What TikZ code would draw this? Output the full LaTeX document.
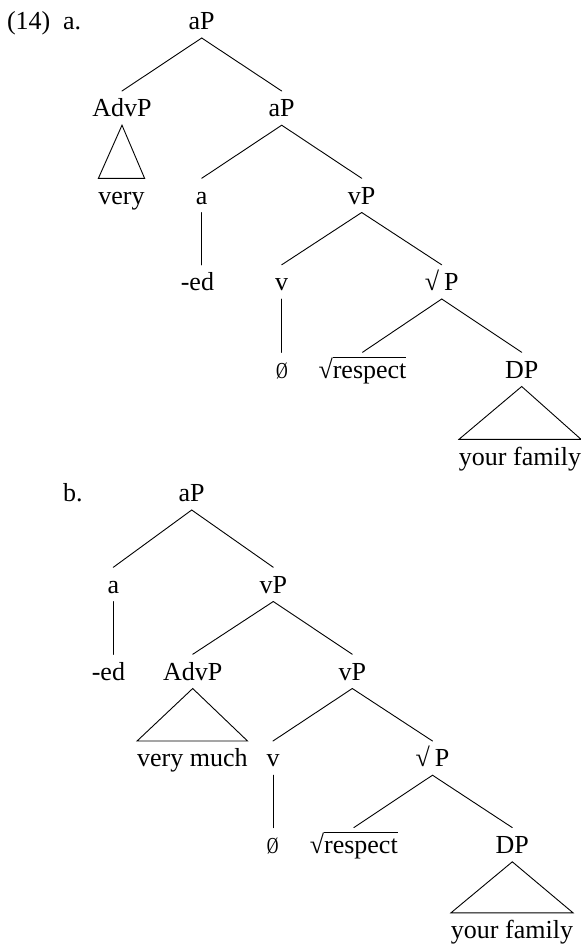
\documentclass[tikz,border=0pt]{standalone}
\usepackage{fontspec}
\usepackage{graphicx}
\setmainfont{Liberation Serif}
\newcommand\rootword[1]{\setbox0=\hbox{#1}√\rlap{\rule[20.3pt]{\wd0}{0.8pt}}\box0}
\newcommand\nullsym{\scalebox{0.62}[0.88]{Ø}}
\tikzset{
  lab/.style={anchor=base, inner sep=0pt, outer sep=0pt, text height=25.7pt, text depth=8.5pt, font=\fontsize{26}{30}\selectfont},
  numlab/.style={anchor=base west, inner sep=0pt, outer sep=0pt, font=\fontsize{26}{30}\selectfont},
  edge/.style={line width=0.9pt, line cap=round}
}
\begin{document}
\begin{tikzpicture}[x=1pt,y=-1pt]
\useasboundingbox (0,0) rectangle (581,946);
% ---------- (14) a. ----------
\node[numlab] (num) at (7,29.5) {(14)};
\node[numlab] (la) at (63,29.5) {a.};
\node[lab] (ta-root) at (201.7,29.5) {aP};
\node[lab] (ta-advp) at (122,116.7) {AdvP};
\node[lab] (ta-ap) at (281.7,116.7) {aP};
\node[lab] (ta-very) at (121.5,204) {very};
\node[lab] (ta-a) at (201.7,204) {a};
\node[lab] (ta-vp) at (361.7,204) {vP};
\node[lab] (ta-ed) at (197.4,290.5) {-ed};
\node[lab] (ta-v) at (281.7,290.5) {v};
\node[lab] (ta-rp) at (441.7,290.5) {√\kern5pt P};
\node[lab] (ta-null) at (282,378) {\nullsym};
\node[lab] (ta-resp) at (362.5,378) {\rootword{respect}};
\node[lab] (ta-dp) at (521.7,378) {DP};
\node[lab] (ta-fam) at (520,465) {your family};
\draw[edge] (ta-root.south) -- (ta-advp.north);
\draw[edge] (ta-root.south) -- (ta-ap.north);
\draw[edge] (ta-advp.south) -- (ta-very.north west) -- (ta-very.north east) -- cycle;
\draw[edge] (ta-ap.south) -- (ta-a.north);
\draw[edge] (ta-ap.south) -- (ta-vp.north);
\draw[edge] (ta-a.south) -- (ta-a.south |- ta-ed.north);
\draw[edge] (ta-vp.south) -- (ta-v.north);
\draw[edge] (ta-vp.south) -- (ta-rp.north);
\draw[edge] (ta-v.south) -- (ta-v.south |- ta-null.north);
\draw[edge] (ta-rp.south) -- (ta-resp.north);
\draw[edge] (ta-rp.south) -- (ta-dp.north);
\draw[edge] (ta-dp.south) -- (ta-fam.north west) -- (ta-fam.north east) -- cycle;
% ---------- b. ----------
\node[numlab] (lb) at (63,501.5) {b.};
\node[lab] (tb-root) at (191.7,501.5) {aP};
\node[lab] (tb-a) at (113.3,593) {a};
\node[lab] (tb-vp) at (273.3,593) {vP};
\node[lab] (tb-ed) at (108.4,680) {-ed};
\node[lab] (tb-advp) at (192.7,680) {AdvP};
\node[lab] (tb-vp2) at (352.3,680) {vP};
\node[lab] (tb-much) at (192.3,766.7) {very much};
\node[lab] (tb-v) at (273,766.7) {v};
\node[lab] (tb-rp) at (432.5,766.7) {√\kern5pt P};
\node[lab] (tb-null) at (272.8,853.3) {\nullsym};
\node[lab] (tb-resp) at (353.8,853.3) {\rootword{respect}};
\node[lab] (tb-dp) at (512.3,853.3) {DP};
\node[lab] (tb-fam) at (512,938.5) {your family};
\draw[edge] (tb-root.south) -- (tb-a.north);
\draw[edge] (tb-root.south) -- (tb-vp.north);
\draw[edge] (tb-a.south) -- (tb-a.south |- tb-ed.north);
\draw[edge] (tb-vp.south) -- (tb-advp.north);
\draw[edge] (tb-vp.south) -- (tb-vp2.north);
\draw[edge] (tb-advp.south) -- (tb-much.north west) -- (tb-much.north east) -- cycle;
\draw[edge] (tb-vp2.south) -- (tb-v.north);
\draw[edge] (tb-vp2.south) -- (tb-rp.north);
\draw[edge] (tb-v.south) -- (tb-v.south |- tb-null.north);
\draw[edge] (tb-rp.south) -- (tb-resp.north);
\draw[edge] (tb-rp.south) -- (tb-dp.north);
\draw[edge] (tb-dp.south) -- (tb-fam.north west) -- (tb-fam.north east) -- cycle;
\end{tikzpicture}
\end{document}
